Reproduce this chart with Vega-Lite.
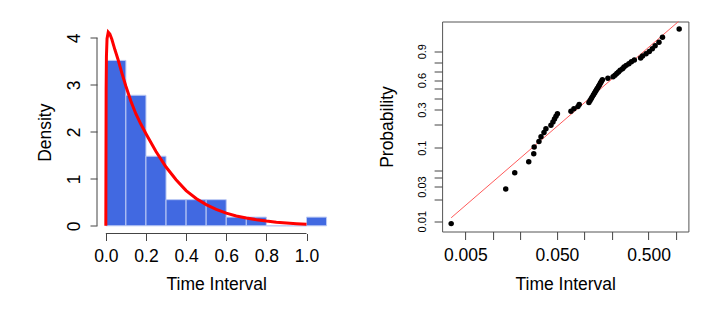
{
  "$schema": "https://vega.github.io/schema/vega-lite/v6.json",
  "padding": {"left": 36, "top": 20.5, "right": 20, "bottom": 5},
  "background": "white",
  "bounds": "flush",
  "spacing": 106.1,
  "config": {
    "view": {"stroke": null},
    "font": "Liberation Sans",
    "axis": {
      "grid": false,
      "domain": false,
      "tickColor": "#444",
      "tickWidth": 1,
      "labelColor": "black",
      "titleColor": "black",
      "titleFontWeight": "normal",
      "labelFont": "Liberation Sans",
      "titleFont": "Liberation Sans",
      "labelOverlap": false,
      "labelFlush": false
    }
  },
  "datasets": {
    "hist": [
      {"bin_start": 0.0, "bin_end": 0.1, "density": 3.519},
      {"bin_start": 0.1, "bin_end": 0.2, "density": 2.778},
      {"bin_start": 0.2, "bin_end": 0.3, "density": 1.481},
      {"bin_start": 0.3, "bin_end": 0.4, "density": 0.556},
      {"bin_start": 0.4, "bin_end": 0.5, "density": 0.556},
      {"bin_start": 0.5, "bin_end": 0.6, "density": 0.556},
      {"bin_start": 0.6, "bin_end": 0.7, "density": 0.185},
      {"bin_start": 0.7, "bin_end": 0.8, "density": 0.185},
      {"bin_start": 0.8, "bin_end": 0.9, "density": 0.0},
      {"bin_start": 0.9, "bin_end": 1.0, "density": 0.0},
      {"bin_start": 1.0, "bin_end": 1.1, "density": 0.185}
    ],
    "curve": [
      {"x": 0.0, "density": 0.0},
      {"x": 0.0015, "density": 2.9},
      {"x": 0.003, "density": 3.6},
      {"x": 0.006, "density": 3.98},
      {"x": 0.012, "density": 4.12},
      {"x": 0.02, "density": 4.08},
      {"x": 0.03, "density": 3.97},
      {"x": 0.045, "density": 3.75},
      {"x": 0.06, "density": 3.55},
      {"x": 0.08, "density": 3.25},
      {"x": 0.1, "density": 2.97},
      {"x": 0.125, "density": 2.65},
      {"x": 0.15, "density": 2.38},
      {"x": 0.175, "density": 2.16},
      {"x": 0.2, "density": 1.96},
      {"x": 0.25, "density": 1.58},
      {"x": 0.3, "density": 1.25},
      {"x": 0.35, "density": 0.98},
      {"x": 0.4, "density": 0.75},
      {"x": 0.45, "density": 0.58},
      {"x": 0.5, "density": 0.45},
      {"x": 0.55, "density": 0.35},
      {"x": 0.6, "density": 0.27},
      {"x": 0.65, "density": 0.21},
      {"x": 0.7, "density": 0.165},
      {"x": 0.75, "density": 0.13},
      {"x": 0.8, "density": 0.1},
      {"x": 0.85, "density": 0.075},
      {"x": 0.9, "density": 0.058},
      {"x": 0.95, "density": 0.045},
      {"x": 1.0, "density": 0.035}
    ],
    "points": [
      {"time": 0.0035, "cumhaz": 0.009302},
      {"time": 0.0138, "cumhaz": 0.028171},
      {"time": 0.0173, "cumhaz": 0.047402},
      {"time": 0.0246, "cumhaz": 0.067011},
      {"time": 0.0279, "cumhaz": 0.087011},
      {"time": 0.0282, "cumhaz": 0.10742},
      {"time": 0.0318, "cumhaz": 0.128254},
      {"time": 0.0335, "cumhaz": 0.149532},
      {"time": 0.0361, "cumhaz": 0.171273},
      {"time": 0.0379, "cumhaz": 0.193498},
      {"time": 0.043, "cumhaz": 0.216223},
      {"time": 0.0452, "cumhaz": 0.239468},
      {"time": 0.047, "cumhaz": 0.26326},
      {"time": 0.0488, "cumhaz": 0.287682},
      {"time": 0.0506, "cumhaz": 0.312689},
      {"time": 0.0711, "cumhaz": 0.338365},
      {"time": 0.0766, "cumhaz": 0.364643},
      {"time": 0.0847, "cumhaz": 0.391562},
      {"time": 0.0875, "cumhaz": 0.419151},
      {"time": 0.1117, "cumhaz": 0.44802},
      {"time": 0.1151, "cumhaz": 0.476478},
      {"time": 0.1186, "cumhaz": 0.50775},
      {"time": 0.1219, "cumhaz": 0.538997},
      {"time": 0.1253, "cumhaz": 0.571255},
      {"time": 0.1288, "cumhaz": 0.604594},
      {"time": 0.1321, "cumhaz": 0.639079},
      {"time": 0.1355, "cumhaz": 0.674798},
      {"time": 0.139, "cumhaz": 0.711839},
      {"time": 0.1426, "cumhaz": 0.750306},
      {"time": 0.1459, "cumhaz": 0.79031},
      {"time": 0.1494, "cumhaz": 0.83198},
      {"time": 0.1528, "cumhaz": 0.875469},
      {"time": 0.1567, "cumhaz": 0.92092},
      {"time": 0.18, "cumhaz": 0.968561},
      {"time": 0.205, "cumhaz": 1.01857},
      {"time": 0.215, "cumhaz": 1.071209},
      {"time": 0.225, "cumhaz": 1.126778},
      {"time": 0.235, "cumhaz": 1.185616},
      {"time": 0.245, "cumhaz": 1.248134},
      {"time": 0.26, "cumhaz": 1.314823},
      {"time": 0.27, "cumhaz": 1.386294},
      {"time": 0.285, "cumhaz": 1.463258},
      {"time": 0.305, "cumhaz": 1.54664},
      {"time": 0.325, "cumhaz": 1.637609},
      {"time": 0.35, "cumhaz": 1.737693},
      {"time": 0.41, "cumhaz": 1.848918},
      {"time": 0.43, "cumhaz": 1.974081},
      {"time": 0.47, "cumhaz": 2.117189},
      {"time": 0.51, "cumhaz": 2.284197},
      {"time": 0.55, "cumhaz": 2.484907},
      {"time": 0.59, "cumhaz": 2.736221},
      {"time": 0.65, "cumhaz": 3.072693},
      {"time": 0.71, "cumhaz": 3.583519},
      {"time": 1.08, "cumhaz": 4.682131}
    ],
    "fit": [
      {"time": 0.0035, "cumhaz": 0.01121},
      {"time": 1.08, "cumhaz": 6.06}
    ],
    "one": [{}]
  },
  "hconcat": [
    {
      "width": 238.4,
      "height": 212,
      "layer": [
        {
          "data": {"name": "hist"},
          "mark": {"type": "bar", "color": "#4169E1", "stroke": "#bccaf4", "strokeWidth": 1},
          "encoding": {
            "x": {
              "field": "bin_start", "type": "quantitative",
              "scale": {"domain": [-0.044, 1.144], "nice": false, "zero": false},
              "axis": {
                "values": [0, 0.2, 0.4, 0.6, 0.8, 1.0], "format": ".1f",
                "title": "Time Interval", "tickSize": 7,
                "labelFontSize": 17.5, "labelBaseline": "alphabetic", "labelPadding": 21,
                "titleFontSize": 17.5, "titleBaseline": "alphabetic", "titleAlign": "center",
                "titleX": 119.2, "titleY": 56.3
              }
            },
            "x2": {"field": "bin_end"},
            "y": {
              "field": "density", "type": "quantitative",
              "scale": {"domain": [-0.1638, 4.347], "nice": false, "zero": false},
              "axis": {
                "values": [0, 1, 2, 3, 4], "title": "Density", "tickSize": 7,
                "labelFontSize": 17.5, "labelAngle": 270, "labelAlign": "center",
                "labelBaseline": "alphabetic", "labelPadding": 10.4,
                "titleFontSize": 17.5, "titleBaseline": "alphabetic", "titleAlign": "center",
                "titleX": -46.8, "titleY": 110.7
              }
            },
            "y2": {"datum": 0}
          }
        },
        {
          "data": {"name": "curve"},
          "mark": {"type": "line", "color": "#ff0000", "strokeWidth": 3, "clip": true},
          "encoding": {
            "x": {"field": "x", "type": "quantitative"},
            "y": {"field": "density", "type": "quantitative"}
          }
        },
        {
          "data": {"name": "one"},
          "mark": {"type": "rule", "color": "#444", "strokeWidth": 1},
          "encoding": {"x": {"datum": 0}, "x2": {"datum": 1}, "y": {"datum": -0.1638}}
        },
        {
          "data": {"name": "one"},
          "mark": {"type": "rule", "color": "#444", "strokeWidth": 1},
          "encoding": {"y": {"datum": 0}, "y2": {"datum": 4}, "x": {"datum": -0.044}}
        }
      ]
    },
    {
      "width": 246.3,
      "height": 210,
      "view": {"stroke": "#555", "strokeWidth": 1},
      "layer": [
        {
          "data": {"name": "fit"},
          "mark": {"type": "line", "color": "#ff5a5a", "strokeWidth": 1, "clip": true},
          "encoding": {
            "x": {
              "field": "time", "type": "quantitative",
              "scale": {"type": "log", "domain": [0.002786, 1.362], "nice": false, "zero": false},
              "axis": {
                "values": [0.005, 0.01, 0.02, 0.05, 0.1, 0.2, 0.5, 1],
                "labelExpr": "datum.value == 0.005 ? '0.005' : datum.value == 0.05 ? '0.050' : datum.value == 0.5 ? '0.500' : ''",
                "title": "Time Interval", "tickSize": 8,
                "labelFontSize": 17.5, "labelBaseline": "alphabetic", "labelPadding": 21,
                "titleFontSize": 17.5, "titleBaseline": "alphabetic", "titleAlign": "center",
                "titleX": 123.15, "titleY": 58.3
              }
            },
            "y": {
              "field": "cumhaz", "type": "quantitative",
              "scale": {"type": "log", "domain": [0.00723, 5.948], "nice": false, "zero": false},
              "axis": {
                "values": [0.0100503, 0.0202027, 0.0304592, 0.040822, 0.0512933, 0.1053605, 0.2231436, 0.3566749, 0.5108256, 0.6931472, 0.9162907, 1.2039728, 1.6094379, 2.3025851],
                "labelExpr": "indexof([1, 3, 10, 30, 60, 90], round((1 - exp(-datum.value)) * 100)) >= 0 ? format(1 - exp(-datum.value), '.2~f') : ''",
                "title": "Probability", "tickSize": 8,
                "labelFontSize": 11, "labelAngle": 270, "labelAlign": "center",
                "labelBaseline": "alphabetic", "labelPadding": 9,
                "titleFontSize": 17.5, "titleBaseline": "alphabetic", "titleAlign": "center",
                "titleX": -49.5, "titleY": 105
              }
            }
          }
        },
        {
          "data": {"name": "points"},
          "mark": {"type": "circle", "color": "black", "size": 30, "opacity": 1},
          "encoding": {
            "x": {"field": "time", "type": "quantitative"},
            "y": {"field": "cumhaz", "type": "quantitative"}
          }
        }
      ]
    }
  ]
}
